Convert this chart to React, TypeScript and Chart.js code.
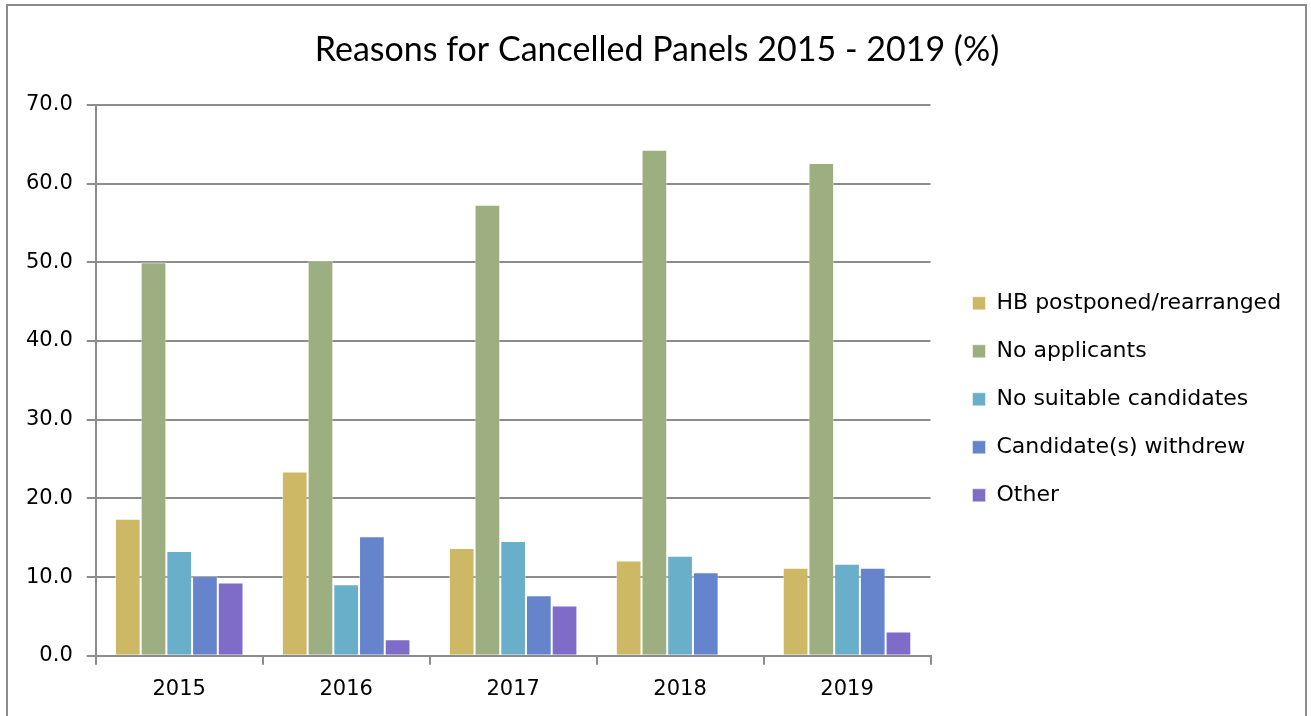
import React, { useEffect, useRef } from "react";
import { Chart, registerables } from "chart.js";

Chart.register(...registerables);

const categories = ["2015", "2016", "2017", "2018", "2019"];
const seriesNames = [
  "HB postponed/rearranged",
  "No applicants",
  "No suitable candidates",
  "Candidate(s) withdrew",
  "Other",
];
const hbPostponed = [17.4, 23.4, 13.7, 12.1, 11.2];
const noApplicants = [50.0, 50.2, 57.3, 64.3, 62.6];
const noSuitable = [13.3, 9.1, 14.6, 12.7, 11.7];
const withdrew = [10.1, 15.2, 7.7, 10.6, 11.2];
const other = [9.3, 2.1, 6.4, 0, 3.1];
const seriesColors = ["#CDB865", "#9DAF80", "#6AAFC9", "#6584CC", "#7F6BC8"];
const yTicks = [0, 10, 20, 30, 40, 50, 60, 70];

const frame = {
  id: "frame",
  beforeDraw(chart: any) {
    const ctx = chart.ctx;
    ctx.save();
    ctx.fillStyle = "#ffffff";
    ctx.fillRect(0, 0, chart.width, chart.height);
    ctx.strokeStyle = "#8c8c8c";
    ctx.lineWidth = 2;
    ctx.strokeRect(7, 5, 1299, 740);
    ctx.restore();
  },
};

const legendShift = {
  id: "legendShift",
  beforeLayout(chart: any) {
    const lg = chart.legend;
    if (lg && !lg._wideFit) {
      const orig = lg.fit.bind(lg);
      lg.fit = function () {
        orig();
        this.width += 49;
      };
      lg._wideFit = true;
    }
  },
  afterLayout(chart: any) {
    const lg = chart.legend;
    if (!lg) return;
    lg.left += 16;
    lg.right += 16;
    lg.top += 19;
    lg.bottom += 19;
  },
};

export default function App() {
  const ref = useRef<HTMLCanvasElement>(null);
  useEffect(() => {
    if (!ref.current) return;
    const values = [hbPostponed, noApplicants, noSuitable, withdrew, other];
    const chart = new Chart(ref.current, {
      type: "bar",
      data: {
        labels: categories,
        datasets: values.map((d, i) => ({
          label: seriesNames[i],
          data: d,
          backgroundColor: seriesColors[i],
          borderColor: "rgba(255,255,255,0.45)",
          borderWidth: 1,
          categoryPercentage: 0.77,
          barPercentage: 1.0,
        })),
      },
      options: {
        animation: false,
        responsive: true,
        maintainAspectRatio: false,
        layout: { padding: { left: 12, right: 9, top: 0, bottom: 2 } },
        plugins: {
          title: {
            display: true,
            text: "Reasons for Cancelled Panels 2015 - 2019 (%)",
            color: "#000",
            font: { family: "Lato", size: 34, weight: "normal" },
            padding: { top: 30, bottom: 34 },
          },
          legend: {
            position: "right",
            fullSize: false,
            labels: {
              boxWidth: 13,
              boxHeight: 13,
              padding: 26,
              color: "#000",
              font: { family: "DejaVu Sans", size: 22 },
            },
          },
          tooltip: { enabled: false },
        },
        scales: {
          x: {
            grid: {
              display: true,
              drawOnChartArea: false,
              drawTicks: true,
              tickLength: 9,
              offset: true,
              color: "#8c8c8c",
              lineWidth: 2,
            },
            border: { display: true, color: "#8c8c8c", width: 2 },
            ticks: {
              color: "#000",
              padding: 12,
              font: { family: "DejaVu Sans", size: 21 },
            },
          },
          y: {
            min: 0,
            max: 70,
            afterBuildTicks: (scale: any) => {
              scale.ticks = yTicks.map((v) => ({ value: v }));
            },
            grid: {
              color: "#8c8c8c",
              lineWidth: 2,
              tickLength: 9,
            },
            border: { display: true, color: "#8c8c8c", width: 2 },
            ticks: {
              color: "#000",
              padding: 14,
              font: { family: "DejaVu Sans", size: 21 },
              callback: (v: any) => Number(v).toFixed(1),
            },
          },
        },
      },
      plugins: [frame, legendShift],
    });
    return () => chart.destroy();
  }, []);
  return (
    <div style={{ position: "absolute", left: 0, top: 0, width: 1311, height: 716 }}>
      <canvas ref={ref} />
    </div>
  );
}
